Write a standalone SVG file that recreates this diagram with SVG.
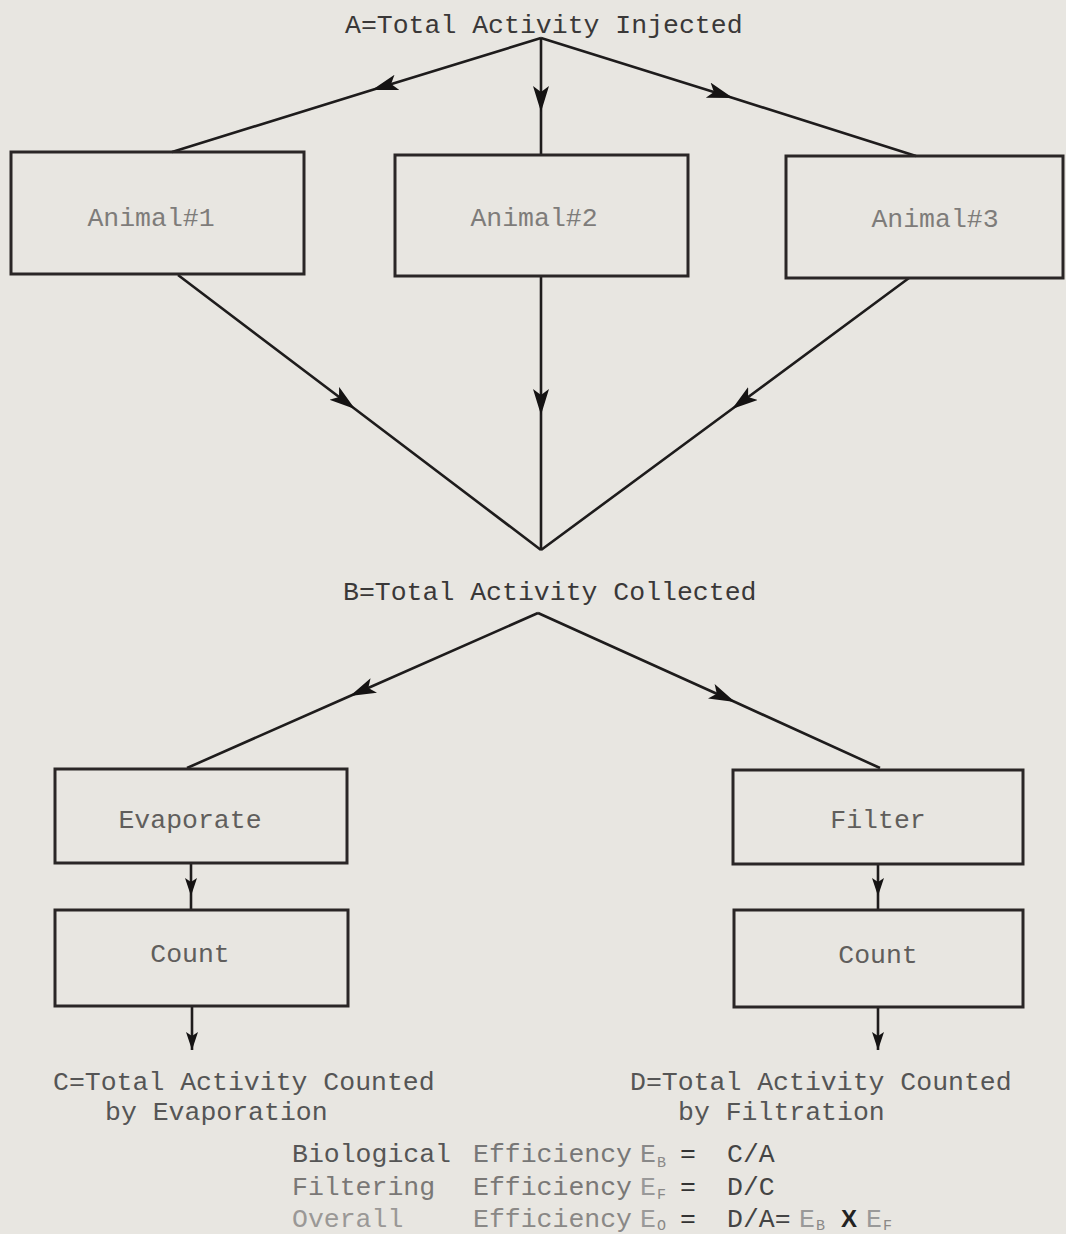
<svg xmlns="http://www.w3.org/2000/svg" width="1066" height="1234" viewBox="0 0 1066 1234">
<defs>
<style>
.bg{fill:#e8e6e1}
.box{fill:none;stroke:#2a2626;stroke-width:3}
.con{fill:none;stroke:#1e1c1c;stroke-width:2.6}
.t{font-family:"Liberation Mono","Courier New",monospace;font-size:26.5px;fill:#3a3838}
.lbl{font-family:"Liberation Mono","Courier New",monospace;font-size:26.5px;fill:#7e7c7a;text-anchor:middle}
.lbl2{font-family:"Liberation Mono","Courier New",monospace;font-size:26.5px;fill:#605e5c;text-anchor:middle}
.sub{font-family:"Liberation Mono","Courier New",monospace;font-size:15px;fill:#8a8886}
</style>
<marker id="arr" markerUnits="userSpaceOnUse" markerWidth="28" markerHeight="18" refX="26" refY="8" orient="auto">
<polygon points="0,0 26,8 0,16 6,8" fill="#151313"/>
</marker>
<marker id="arrs" markerUnits="userSpaceOnUse" markerWidth="20" markerHeight="14" refX="18" refY="6" orient="auto">
<polygon points="0,0 18,6 0,12 4,6" fill="#151313"/>
</marker>
</defs>
<rect class="bg" x="0" y="0" width="1066" height="1234"/>

<g id="connectors">
<path class="con" d="M541,38 L372,90 L172,152" marker-mid="url(#arr)"/>
<path class="con" d="M541,38 L541,112 L541,155" marker-mid="url(#arr)"/>
<path class="con" d="M541,38 L733,98 L916,156" marker-mid="url(#arr)"/>
<path class="con" d="M178,275 L355,409 L541,550" marker-mid="url(#arr)"/>
<path class="con" d="M541,276 L541,415 L541,550" marker-mid="url(#arr)"/>
<path class="con" d="M909,278 L732,409 L541,550" marker-mid="url(#arr)"/>
<path class="con" d="M538,613 L350,696 L187,768" marker-mid="url(#arr)"/>
<path class="con" d="M538,613 L735,702 L880,768" marker-mid="url(#arr)"/>
<path class="con" d="M191,864 L191,896 L191,910" marker-mid="url(#arrs)"/>
<path class="con" d="M192,1007 L192,1050" marker-end="url(#arrs)"/>
<path class="con" d="M878,865 L878,896 L878,910" marker-mid="url(#arrs)"/>
<path class="con" d="M878,1008 L878,1050" marker-end="url(#arrs)"/>
</g>

<g id="A"><text class="t" x="345" y="33">A=Total Activity Injected</text></g>

<g id="animal1"><rect class="box" x="11" y="152" width="293" height="122"/><text class="lbl" x="151" y="226">Animal#1</text></g>
<g id="animal2"><rect class="box" x="395" y="155" width="293" height="121"/><text class="lbl" x="534" y="226">Animal#2</text></g>
<g id="animal3"><rect class="box" x="786" y="156" width="277" height="122"/><text class="lbl" x="935" y="227">Animal#3</text></g>

<g id="B"><text class="t" x="343" y="600">B=Total Activity Collected</text></g>

<g id="evaporate"><rect class="box" x="55" y="769" width="292" height="94"/><text class="lbl2" x="190" y="828">Evaporate</text></g>
<g id="count1"><rect class="box" x="55" y="910" width="293" height="96"/><text class="lbl2" x="190" y="962">Count</text></g>
<g id="filter"><rect class="box" x="733" y="770" width="290" height="94"/><text class="lbl2" x="878" y="828">Filter</text></g>
<g id="count2"><rect class="box" x="734" y="910" width="289" height="97"/><text class="lbl2" x="878" y="963">Count</text></g>

<g id="C"><text class="t" x="53" y="1090" style="fill:#555">C=Total Activity Counted</text><text class="t" x="105" y="1120" style="fill:#555">by Evaporation</text></g>
<g id="D"><text class="t" x="630" y="1090" style="fill:#555">D=Total Activity Counted</text><text class="t" x="678" y="1120" style="fill:#555">by Filtration</text></g>

<g id="formulas">
<text class="t" x="292" y="1162" style="fill:#555">Biological</text>
<text class="t" x="473" y="1162" style="fill:#777">Efficiency</text>
<text class="t" x="640" y="1162" style="fill:#888">E</text>
<text class="sub" x="657" y="1167">B</text>
<text class="t" x="680" y="1162" style="fill:#333">=</text>
<text class="t" x="727" y="1162" style="fill:#444">C/A</text>

<text class="t" x="292" y="1195" style="fill:#7a7876">Filtering</text>
<text class="t" x="473" y="1195" style="fill:#7a7876">Efficiency</text>
<text class="t" x="640" y="1195" style="fill:#999">E</text>
<text class="sub" x="657" y="1199">F</text>
<text class="t" x="680" y="1195" style="fill:#333">=</text>
<text class="t" x="727" y="1195" style="fill:#444">D/C</text>

<text class="t" x="292" y="1227" style="fill:#9a9896">Overall</text>
<text class="t" x="473" y="1227" style="fill:#8a8886">Efficiency</text>
<text class="t" x="640" y="1227" style="fill:#999">E</text>
<text class="sub" x="657" y="1230">O</text>
<text class="t" x="680" y="1227" style="fill:#333">=</text>
<text class="t" x="727" y="1227" style="fill:#444">D/A=</text>
<text class="t" x="799" y="1227" style="fill:#999">E</text>
<text class="sub" x="816" y="1230">B</text>
<text x="841" y="1227" style="font-family:'Liberation Sans',Arial,sans-serif;font-size:24px;font-weight:bold;fill:#222">X</text>
<text class="t" x="866" y="1227" style="fill:#999">E</text>
<text class="sub" x="883" y="1230">F</text>
</g>
</svg>
